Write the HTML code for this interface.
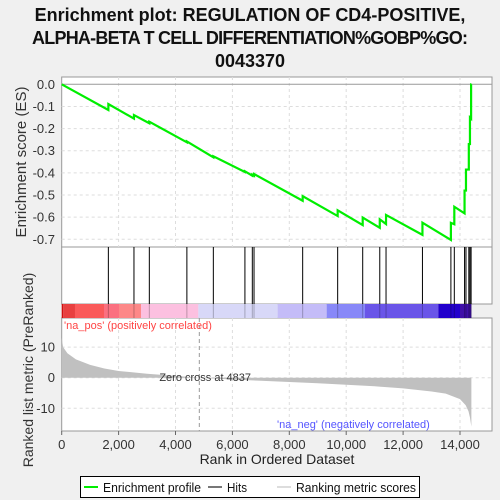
<!DOCTYPE html>
<html><head><meta charset="utf-8"><style>
html,body{margin:0;padding:0;background:#f0f0f0;}
svg{display:block;font-family:"Liberation Sans",sans-serif;}
</style></head><body>
<svg id="c" width="500" height="500">
<text x="250" y="21" text-anchor="middle" font-size="18" font-weight="bold" fill="#111">Enrichment plot: REGULATION OF CD4-POSITIVE,</text>
<text x="250" y="44" text-anchor="middle" font-size="18" font-weight="bold" fill="#111" textLength="436">ALPHA-BETA T CELL DIFFERENTIATION%GOBP%GO:</text>
<text x="250" y="67" text-anchor="middle" font-size="18" font-weight="bold" fill="#111">0043370</text>
</svg>
<script>
const hitRanks=[1640,2540,3080,4400,5330,6440,6700,6760,8470,9700,10580,11180,11400,12680,13680,13800,14160,14210,14310,14350,14390];
const esBefore=[-0.116,-0.155,-0.176,-0.262,-0.33,-0.396,-0.413,-0.413,-0.526,-0.595,-0.636,-0.648,-0.631,-0.68,-0.703,-0.632,-0.583,-0.48,-0.385,-0.27,-0.155];
const esAfter=[-0.089,-0.139,-0.169,-0.258,-0.325,-0.393,-0.408,-0.405,-0.505,-0.569,-0.602,-0.61,-0.59,-0.625,-0.626,-0.553,-0.48,-0.385,-0.27,-0.15,0];
const metricRanks=[0,50,200,500,1000,1500,2000,3000,4000,4837,6000,7000,8000,9000,10000,11000,12000,13000,13500,14000,14200,14300,14350,14400];
const metricValues=[13,10,8,6,4.2,3,2.2,1.3,0.6,0,-0.6,-1,-1.4,-1.8,-2.3,-2.8,-3.5,-4.5,-5.2,-7,-9,-11,-13,-16];
const esTicks=[0,-0.1,-0.2,-0.3,-0.4,-0.5,-0.6,-0.7];
const metricTicks=[10,0,-10];
const xTicks=[0,2000,4000,6000,8000,10000,12000,14000];
const xTickLabels=["0","2,000","4,000","6,000","8,000","10,000","12,000","14,000"];
const barColors=["#d01010","#e84040","#fa5a5a","#fb7080","#fd8888","#fcc0e0","#d8d8f8","#c4bcf8","#8888f8","#6a55e8","#2200cc","#4010a8"];
const barEdges=[0,56,467,1487,2014,2787,4803,7590,9314,10661,13238,14000,14400];
const N=14400;
const ns="http://www.w3.org/2000/svg";
const svg=document.getElementById('c');
const L=61.7,R=492;
const xs=r=>L+r*0.02845;
const esY=v=>84.3-v*221.4;
const mY=v=>377.7-v*3.06;
function mk(t,a,p){const e=document.createElementNS(ns,t);for(const k in a)e.setAttribute(k,a[k]);(p||svg).appendChild(e);return e;}
let p1=mk('rect',{x:L,y:77,width:R-L,height:170,fill:'#fff',stroke:'#999'});


let p2=mk('rect',{x:L,y:247,width:R-L,height:57,fill:'#fff',stroke:'#999'});


let p4=mk('rect',{x:L,y:318,width:R-L,height:113,fill:'#fff',stroke:'#999'});


xTicks.forEach(t=>{if(t>0){mk('line',{x1:xs(t),x2:xs(t),y1:77,y2:247,stroke:'#ddd','stroke-dasharray':'3,3'});mk('line',{x1:xs(t),x2:xs(t),y1:318,y2:431,stroke:'#ddd','stroke-dasharray':'3,3'});}});
esTicks.forEach(t=>{mk('line',{x1:L,x2:R,y1:esY(t),y2:esY(t),stroke:t==0?'#999':'#ddd','stroke-dasharray':t==0?'':'3,3'});
let tx=mk('text',{x:55,y:esY(t)+4.5,'text-anchor':'end','font-size':13,fill:'#333'});tx.textContent=t.toFixed(1);

});
metricTicks.forEach(t=>{mk('line',{x1:L,x2:R,y1:mY(t),y2:mY(t),stroke:'#ddd','stroke-dasharray':'3,3'});
let tx=mk('text',{x:55,y:mY(t)+4.5,'text-anchor':'end','font-size':13,fill:'#333'});tx.textContent=String(t);

});
let pts=[[0,0]];hitRanks.forEach((r,i)=>{pts.push([r,esBefore[i]]);pts.push([r,esAfter[i]]);});pts.push([N,esAfter[esAfter.length-1]]);
let es=mk('polyline',{points:pts.map(p=>xs(p[0])+','+esY(p[1])).join(' '),fill:'none',stroke:'#00ee00','stroke-width':2.2});


hitRanks.forEach(r=>{let h=mk('line',{x1:xs(r),x2:xs(r),y1:247,y2:304,stroke:'#000','stroke-width':1});

});
for(let i=0;i<barColors.length;i++){let b=mk('rect',{x:xs(barEdges[i]),y:304,width:xs(barEdges[i+1])-xs(barEdges[i]),height:14,fill:barColors[i]});

}
hitRanks.forEach(r=>mk('line',{x1:xs(r),x2:xs(r),y1:304,y2:318,stroke:'rgba(0,0,0,0.25)'}));
let mp=[[0,0]];metricRanks.forEach((r,i)=>mp.push([r,metricValues[i]]));mp.push([N,0]);
let ma=mk('polygon',{points:mp.map(p=>xs(p[0])+','+mY(p[1])).join(' '),fill:'#c0c0c0'});


mk('line',{x1:xs(4837),x2:xs(4837),y1:318,y2:431,stroke:'#999','stroke-dasharray':'4,3'});
let zc=mk('text',{x:xs(4837)-40,y:381,'font-size':11,fill:'#333'});zc.textContent='Zero cross at 4837';


let pl=mk('text',{x:64,y:329,'font-size':11,fill:'#f44'});pl.textContent="'na_pos' (positively correlated)";


let nl=mk('text',{x:277,y:428,'font-size':11,fill:'#55f'});nl.textContent="'na_neg' (negatively correlated)";


xTicks.forEach((t,i)=>{mk('line',{x1:xs(t),x2:xs(t),y1:431,y2:435,stroke:'#666'});
let tx=mk('text',{x:xs(t),y:449,'text-anchor':'middle','font-size':13,fill:'#333'});tx.textContent=xTickLabels[i];

});
let xt=mk('text',{x:277,y:464,'text-anchor':'middle','font-size':14,fill:'#222'});xt.textContent='Rank in Ordered Dataset';


let y1=mk('text',{x:0,y:0,'text-anchor':'middle','font-size':15,fill:'#333',transform:'translate(26,162) rotate(-90)'});y1.textContent='Enrichment score (ES)';


let y2=mk('text',{x:0,y:0,'text-anchor':'middle','font-size':14,fill:'#333',transform:'translate(33,370) rotate(-90)'});y2.textContent='Ranked list metric (PreRanked)';


let lg=mk('g',{});


mk('rect',{x:80.5,y:476.5,width:339,height:21,fill:'#fff',stroke:'#000'},lg);
mk('line',{x1:84,x2:98,y1:487,y2:487,stroke:'#00ee00','stroke-width':2},lg);
let t1=mk('text',{x:103,y:492,'font-size':13,fill:'#111',textLength:98,lengthAdjust:'spacingAndGlyphs'},lg);t1.textContent='Enrichment profile';
mk('line',{x1:208,x2:222,y1:487,y2:487,stroke:'#777','stroke-width':2},lg);
let t2=mk('text',{x:227,y:492,'font-size':13,fill:'#111',textLength:20,lengthAdjust:'spacingAndGlyphs'},lg);t2.textContent='Hits';
mk('line',{x1:277,x2:291,y1:487,y2:487,stroke:'#ddd','stroke-width':2},lg);
let t3=mk('text',{x:296,y:492,'font-size':13,fill:'#111',textLength:120,lengthAdjust:'spacingAndGlyphs'},lg);t3.textContent='Ranking metric scores';
</script>
</body></html>
